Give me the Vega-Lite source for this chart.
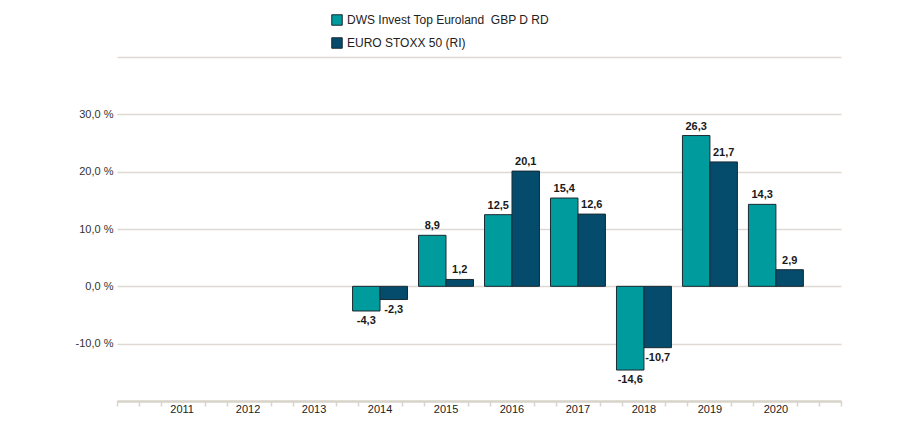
{
  "$schema": "https://vega.github.io/schema/vega-lite/v6.json",
  "width": 724,
  "height": 344,
  "autosize": "none",
  "padding": {"left": 117, "top": 57, "right": 58, "bottom": 27},
  "background": "white",
  "config": {
    "font": "Liberation Sans",
    "view": {"stroke": null},
    "locale": {"number": {"decimal": ",", "thousands": ".", "grouping": [3], "currency": ["", " €"], "minus": "-"}}
  },
  "data": {
    "values": [
      {"year": 2011, "series": "DWS Invest Top Euroland\u00a0 GBP D RD", "value": null},
      {"year": 2012, "series": "DWS Invest Top Euroland\u00a0 GBP D RD", "value": null},
      {"year": 2013, "series": "DWS Invest Top Euroland\u00a0 GBP D RD", "value": null},
      {"year": 2014, "series": "DWS Invest Top Euroland\u00a0 GBP D RD", "value": -4.3},
      {"year": 2014, "series": "EURO STOXX 50 (RI)", "value": -2.3},
      {"year": 2015, "series": "DWS Invest Top Euroland\u00a0 GBP D RD", "value": 8.9},
      {"year": 2015, "series": "EURO STOXX 50 (RI)", "value": 1.2},
      {"year": 2016, "series": "DWS Invest Top Euroland\u00a0 GBP D RD", "value": 12.5},
      {"year": 2016, "series": "EURO STOXX 50 (RI)", "value": 20.1},
      {"year": 2017, "series": "DWS Invest Top Euroland\u00a0 GBP D RD", "value": 15.4},
      {"year": 2017, "series": "EURO STOXX 50 (RI)", "value": 12.6},
      {"year": 2018, "series": "DWS Invest Top Euroland\u00a0 GBP D RD", "value": -14.6},
      {"year": 2018, "series": "EURO STOXX 50 (RI)", "value": -10.7},
      {"year": 2019, "series": "DWS Invest Top Euroland\u00a0 GBP D RD", "value": 26.3},
      {"year": 2019, "series": "EURO STOXX 50 (RI)", "value": 21.7},
      {"year": 2020, "series": "DWS Invest Top Euroland\u00a0 GBP D RD", "value": 14.3},
      {"year": 2020, "series": "EURO STOXX 50 (RI)", "value": 2.9}
    ]
  },
  "layer": [
    {
      "encoding": {
        "x": {
          "field": "year", "type": "ordinal",
          "scale": {"domain": [2011, 2012, 2013, 2014, 2015, 2016, 2017, 2018, 2019, 2020], "paddingInner": 0.167, "paddingOuter": 0.57},
          "axis": {"orient": "bottom", "title": null, "labelAngle": 0, "ticks": false, "domain": false, "grid": false, "labelFontSize": 11, "labelColor": "#222", "labelPadding": 2}
        },
        "xOffset": {"field": "series", "type": "nominal", "scale": {"domain": ["DWS Invest Top Euroland\u00a0 GBP D RD", "EURO STOXX 50 (RI)"]}},
        "y": {
          "field": "value", "type": "quantitative",
          "scale": {"domain": [-20, 40], "nice": false},
          "axis": {
            "title": null, "values": [-20, -10, 0, 10, 20, 30, 40],
            "grid": true, "gridColor": "#dedad3", "gridWidth": 1.5,
            "domain": false, "ticks": false, "labelPadding": 4,
            "labelFontSize": 11, "labelColor": "#333",
            "labelExpr": "datum.value == 40 || datum.value == -20 ? '' : replace(replace(format(datum.value, '.1f'), '.', ','), '−', '-') + ' %'"
          }
        }
      },
      "layer": [
        {
          "mark": {"type": "bar", "stroke": "#1b2a33", "strokeWidth": 1},
          "transform": [{"filter": "datum.value != null"}],
          "encoding": {
            "color": {
              "field": "series", "type": "nominal",
              "scale": {"domain": ["DWS Invest Top Euroland\u00a0 GBP D RD", "EURO STOXX 50 (RI)"], "range": ["#009b9c", "#044b6c"]},
              "legend": {
                "title": null, "orient": "none", "legendX": 214, "legendY": -43, "direction": "vertical",
                "symbolType": "square", "symbolSize": 110, "symbolStrokeColor": "#1b2a33", "symbolStrokeWidth": 1,
                "labelFontSize": 12, "labelColor": "#222", "rowPadding": 7, "symbolOpacity": 1, "labelLimit": 0
              }
            }
          }
        },
        {
          "mark": {"type": "text", "baseline": "bottom", "dy": -4, "fontSize": 11, "fontWeight": "bold", "color": "#1a1a1a"},
          "transform": [{"filter": "datum.value != null && datum.value >= 0"}],
          "encoding": {"text": {"field": "value", "type": "quantitative", "format": ".1f"}}
        },
        {
          "mark": {"type": "text", "baseline": "top", "dy": 4, "fontSize": 11, "fontWeight": "bold", "color": "#1a1a1a"},
          "transform": [{"filter": "datum.value != null && datum.value < 0"}],
          "encoding": {"text": {"field": "value", "type": "quantitative", "format": ".1f"}}
        }
      ]
    },
    {
      "mark": {"type": "point", "opacity": 0},
      "encoding": {
        "x": {
          "field": "year", "type": "quantitative",
          "scale": {"domain": [2010, 2021], "nice": false, "zero": false},
          "axis": {
            "orient": "bottom", "title": null, "labels": false, "grid": false,
            "values": [2010, 2010.3333, 2010.6667, 2011.3333, 2011.6667, 2012.3333, 2012.6667, 2013.3333, 2013.6667, 2014.3333, 2014.6667, 2015.3333, 2015.6667, 2016.3333, 2016.6667, 2017.3333, 2017.6667, 2018.3333, 2018.6667, 2019.3333, 2019.6667, 2020.3333, 2020.6667, 2021],
            "ticks": true, "tickSize": 5, "tickColor": "#d8d4cb", "tickWidth": 1.5,
            "domain": true, "domainColor": "#d8d4cb", "domainWidth": 2.5
          }
        }
      }
    }
  ],
  "resolve": {"scale": {"x": "independent"}, "axis": {"x": "independent"}}
}
